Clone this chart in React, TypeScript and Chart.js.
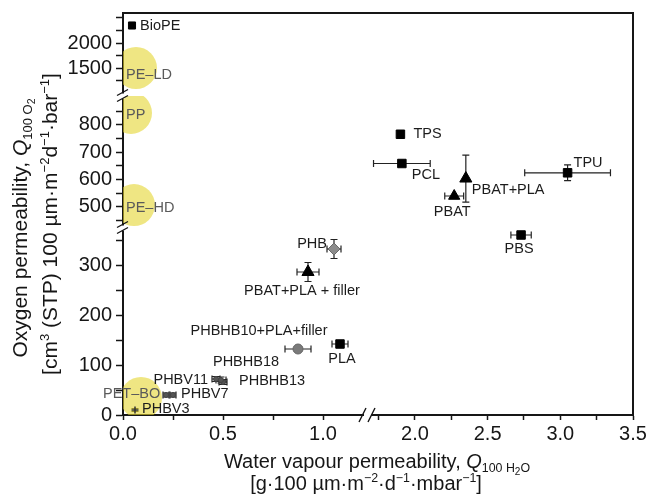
import React, { useEffect, useRef } from "react";
import { Chart, registerables } from "chart.js";

Chart.register(...registerables);

// ---------------- DATA ----------------
const materials = [
  "BioPE", "TPS", "PCL", "TPU", "PBAT", "PBAT+PLA", "PBS", "PHB",
  "PBAT+PLA + filler", "PHBHB10+PLA+filler", "PLA", "PHBV11", "PHBHB18",
  "PHBHB13", "PHBV7", "PHBV7", "PHBV3",
];
const waterPermeability = [0.045, 1.9, 1.91, 3.05, 2.27, 2.35, 2.73, 1.055, 0.925, 0.875, 1.085, 0.465, 0.49, 0.5, 0.215, 0.25, 0.06];
const oxygenPermeability = [2350, 766, 659, 625, 540, 604, 360, 332, 286, 132, 142, 72, 70, 66, 40, 40, 10];
const waterError = [0, 0, 0.195, 0.295, 0.065, 0, 0.07, 0.035, 0.055, 0.065, 0.04, 0.02, 0.025, 0.02, 0.015, 0.015, 0];
const oxygenError = [0, 0, 0, 29, 0, 86, 0, 19, 19, 5, 5, 5, 6, 5, 4, 4, 3];

const rangeMaterials = ["PE–LD", "PP", "PE–HD", "PET–BO"];
const rangeWater = [0.065, 0.04, 0.055, 0.09];
const rangeOxygen = [1500, 844, 507, 34];

// axis segments (broken axes)
const xSegLow = [0, 1.225];
const xSegHigh = [1.677, 3.5];
const ySegLow = [0, 374];
const ySegMid = [423, 906];
const ySegHigh = [940, 2600];

const xTicksLow = [0, 0.25, 0.5, 0.75, 1.0];
const xTicksHigh = [1.75, 2.0, 2.25, 2.5, 2.75, 3.0, 3.25, 3.5];
const xTickLabels = [0, 0.5, 1.0, 2.0, 2.5, 3.0, 3.5];
const yTicksLow = [0, 50, 100, 150, 200, 250, 300, 350];
const yTicksMid = [450, 500, 550, 600, 650, 700, 750, 800, 850];
const yTicksHigh = [1250, 1500, 1750, 2000, 2250, 2500];
const yTickLabels = [0, 100, 200, 300, 500, 600, 700, 800, 1500, 2000];

// ---------------- STYLE ----------------
const FONT = '"Liberation Sans", Arial, Helvetica, sans-serif';
const INK = "#161616";
const YELLOW = "rgba(228,214,48,0.6)";

type Look = { shape: string; r: number; fill: string; stroke: string; dx: number; dy: number; align: CanvasTextAlign; label: boolean };
const sq = (dx: number, dy: number, align: CanvasTextAlign, r = 6): Look => ({ shape: "rect", r, fill: "#000", stroke: "#000", dx, dy, align, label: true });
const tri = (dx: number, dy: number, align: CanvasTextAlign, r = 7): Look => ({ shape: "triangle", r, fill: "#000", stroke: "#000", dx, dy, align, label: true });
const small = (dx: number, dy: number, align: CanvasTextAlign, label = true): Look => ({ shape: "circle", r: 2.5, fill: "#555", stroke: "#444", dx, dy, align, label });

const pointLook: Look[] = [
  sq(8, 0, "left", 5),        // BioPE
  sq(13, 0, "left"),          // TPS
  sq(10, 11, "left"),         // PCL
  sq(6, -10, "left"),         // TPU
  tri(-2, 16, "center", 6.5), // PBAT
  tri(6, 11, "left"),         // PBAT+PLA
  sq(-2, 14, "center"),       // PBS
  { shape: "rectRot", r: 6, fill: "#8c8c8c", stroke: "#6a6a6a", dx: -7, dy: -5, align: "right", label: true }, // PHB
  tri(-6, 19, "center"),      // PBAT+PLA + filler
  { shape: "circle", r: 5, fill: "#7a7a7a", stroke: "#666", dx: -39, dy: -18, align: "center", label: true }, // PHBHB10
  sq(2, 15, "center"),        // PLA
  small(-8, 1, "right"),      // PHBV11
  small(25, -18, "center"),   // PHBHB18
  small(16, -1, "left"),      // PHBHB13
  small(0, 0, "left", false), // PHBV7 a
  small(8, -1, "left"),       // PHBV7 b
  { shape: "cross", r: 3.5, fill: "#333", stroke: "#333", dx: 7, dy: -1, align: "left", label: true }, // PHBV3
];
const rangeLook = [
  { dx: -10, dy: 7 },
  { dx: -5, dy: 2 },
  { dx: -8, dy: 3 },
  { dx: -38, dy: -4 },
];

const xAxisFor = (x: number) => (x <= xSegLow[1] ? "xLow" : "xHigh");
const yAxisFor = (y: number) => (y <= ySegLow[1] ? "yLow" : y <= ySegMid[1] ? "yMid" : "yHigh");

type Seg = { t: string; k: "n" | "i" | "sub" | "ss" | "sup" };
const yTitle1: Seg[] = [{ t: "Oxygen permeability, ", k: "n" }, { t: "Q", k: "i" }, { t: "100 O", k: "sub" }, { t: "2", k: "ss" }];
const yTitle2: Seg[] = [
  { t: "[cm", k: "n" }, { t: "3", k: "sup" }, { t: " (STP) 100 µm·m", k: "n" }, { t: "−2", k: "sup" },
  { t: "d", k: "n" }, { t: "−1", k: "sup" }, { t: "·bar", k: "n" }, { t: "−1", k: "sup" }, { t: "]", k: "n" },
];
const xTitle1: Seg[] = [{ t: "Water vapour permeability, ", k: "n" }, { t: "Q", k: "i" }, { t: "100 H", k: "sub" }, { t: "2", k: "ss" }, { t: "O", k: "sub" }];
const xTitle2: Seg[] = [
  { t: "[g·100 µm·m", k: "n" }, { t: "−2", k: "sup" }, { t: "·d", k: "n" }, { t: "−1", k: "sup" },
  { t: "·mbar", k: "n" }, { t: "−1", k: "sup" }, { t: "]", k: "n" },
];

function drawRich(ctx: CanvasRenderingContext2D, segs: Seg[], cx: number, baseline: number, size: number) {
  const sizes: Record<string, number> = { n: size, i: size, sub: size * 0.62, ss: size * 0.5, sup: size * 0.62 };
  const shifts: Record<string, number> = { n: 0, i: 0, sub: size * 0.22, ss: size * 0.36, sup: -size * 0.4 };
  const font = (k: string) => `${k === "i" ? "italic " : ""}${sizes[k]}px ${FONT}`;
  let total = 0;
  const widths = segs.map((s) => {
    ctx.font = font(s.k);
    const w = ctx.measureText(s.t).width;
    total += w;
    return w;
  });
  let x = cx - total / 2;
  ctx.textAlign = "left";
  ctx.textBaseline = "alphabetic";
  ctx.fillStyle = INK;
  segs.forEach((s, j) => {
    ctx.font = font(s.k);
    ctx.fillText(s.t, x, baseline + shifts[s.k]);
    x += widths[j];
  });
}

const decorPlugin = {
  id: "decor",
  beforeDraw(chart: any) {
    const ctx = chart.ctx;
    ctx.save();
    ctx.fillStyle = "#fff";
    ctx.fillRect(0, 0, chart.width, chart.height);
    ctx.restore();
  },
  beforeDatasetsDraw(chart: any) {
    const ctx: CanvasRenderingContext2D = chart.ctx;
    ctx.save();
    ctx.strokeStyle = "#222";
    ctx.lineWidth = 1.2;
    const cap = 3.5;
    materials.forEach((_, i) => {
      const x = waterPermeability[i];
      const y = oxygenPermeability[i];
      const xs = chart.scales[xAxisFor(x)];
      const ys = chart.scales[yAxisFor(y)];
      const px = xs.getPixelForValue(x);
      const py = ys.getPixelForValue(y);
      ctx.beginPath();
      if (waterError[i] > 0) {
        const a = xs.getPixelForValue(x - waterError[i]);
        const b = xs.getPixelForValue(x + waterError[i]);
        ctx.moveTo(a, py); ctx.lineTo(b, py);
        ctx.moveTo(a, py - cap); ctx.lineTo(a, py + cap);
        ctx.moveTo(b, py - cap); ctx.lineTo(b, py + cap);
      }
      if (oxygenError[i] > 0) {
        const a = ys.getPixelForValue(y - oxygenError[i]);
        const b = ys.getPixelForValue(y + oxygenError[i]);
        ctx.moveTo(px, a); ctx.lineTo(px, b);
        ctx.moveTo(px - cap, a); ctx.lineTo(px + cap, a);
        ctx.moveTo(px - cap, b); ctx.lineTo(px + cap, b);
      }
      ctx.stroke();
    });
    ctx.restore();
  },
  afterDatasetsDraw(chart: any) {
    const ctx: CanvasRenderingContext2D = chart.ctx;
    ctx.save();
    ctx.font = `14.5px ${FONT}`;
    ctx.textBaseline = "middle";
    materials.forEach((m, i) => {
      const look = pointLook[i];
      if (!look.label) return;
      const x = waterPermeability[i];
      const y = oxygenPermeability[i];
      const px = chart.scales[xAxisFor(x)].getPixelForValue(x);
      const py = chart.scales[yAxisFor(y)].getPixelForValue(y);
      ctx.textAlign = look.align;
      ctx.fillStyle = "#1c1c1c";
      ctx.fillText(m, px + look.dx, py + look.dy);
    });
    rangeMaterials.forEach((m, i) => {
      const x = rangeWater[i];
      const y = rangeOxygen[i];
      const px = chart.scales[xAxisFor(x)].getPixelForValue(x);
      const py = chart.scales[yAxisFor(y)].getPixelForValue(y);
      ctx.textAlign = "left";
      ctx.fillStyle = "#5a5a5a";
      ctx.fillText(m, px + rangeLook[i].dx, py + rangeLook[i].dy);
    });
    ctx.restore();
  },
  afterDraw(chart: any) {
    const ctx: CanvasRenderingContext2D = chart.ctx;
    const { left, right, top, bottom } = chart.chartArea;
    ctx.save();
    // frame top & right
    ctx.strokeStyle = INK;
    ctx.lineWidth = 2;
    ctx.beginPath();
    ctx.moveTo(left, top);
    ctx.lineTo(right, top);
    ctx.lineTo(right, bottom);
    ctx.stroke();

    // y-axis breaks
    const yBreaks = [chart.scales.yHigh.bottom, chart.scales.yMid.bottom];
    yBreaks.forEach((yb: number) => {
      ctx.fillStyle = "#fff";
      ctx.fillRect(left - 2, yb - 2.5, 4, 5);
      ctx.strokeStyle = INK;
      ctx.lineWidth = 1.4;
      ctx.beginPath();
      ctx.moveTo(left - 6, yb - 0.5); ctx.lineTo(left + 5, yb - 6.5);
      ctx.moveTo(left - 6, yb + 5.5); ctx.lineTo(left + 5, yb - 0.5);
      ctx.stroke();
    });
    // x-axis break
    const xb = chart.scales.xLow.right;
    ctx.fillStyle = "#fff";
    ctx.fillRect(xb - 4, bottom - 2, 7, 4);
    ctx.strokeStyle = INK;
    ctx.lineWidth = 1.4;
    ctx.beginPath();
    ctx.moveTo(xb - 9, bottom + 7); ctx.lineTo(xb - 2, bottom - 7);
    ctx.moveTo(xb, bottom + 7); ctx.lineTo(xb + 7, bottom - 7);
    ctx.stroke();

    // axis titles
    ctx.save();
    ctx.translate(27, 228);
    ctx.rotate(-Math.PI / 2);
    drawRich(ctx, yTitle1, 0, 0, 21);
    ctx.restore();
    ctx.save();
    ctx.translate(57, 224);
    ctx.rotate(-Math.PI / 2);
    drawRich(ctx, yTitle2, 0, 0, 21);
    ctx.restore();
    drawRich(ctx, xTitle1, 377, 468, 20);
    drawRich(ctx, xTitle2, 366, 490, 20);
    ctx.restore();
  },
};

function axis(pos: "left" | "bottom", seg: number[], ticks: number[], weight: number) {
  const isX = pos === "bottom";
  return {
    type: "linear",
    position: pos,
    stack: isX ? "xStack" : "yStack",
    stackWeight: weight,
    min: seg[0],
    max: seg[1],
    afterBuildTicks: (s: any) => {
      s.ticks = ticks.map((v) => ({ value: v }));
    },
    afterFit: (s: any) => {
      if (isX) s.height = 85;
      else s.width = 123;
      s.paddingTop = 0;
      s.paddingBottom = 0;
      s.paddingLeft = 0;
      s.paddingRight = 0;
    },
    ticks: {
      autoSkip: false,
      maxRotation: 0,
      minRotation: 0,
      padding: isX ? 2 : 4,
      color: INK,
      font: { family: FONT, size: 20 },
      callback: (v: number) => {
        const hit = isX
          ? xTickLabels.some((t) => Math.abs(t - v) < 1e-6)
          : yTickLabels.some((t) => Math.abs(t - v) < 1e-6);
        if (!hit) return "";
        return isX ? Number(v).toFixed(1) : String(v);
      },
    },
    grid: {
      display: true,
      drawOnChartArea: false,
      drawTicks: true,
      tickLength: isX ? 5 : 7,
      tickWidth: 1.5,
      tickColor: INK,
    },
    border: { display: true, color: INK, width: 2 },
  };
}

export default function App() {
  const ref = useRef<HTMLCanvasElement>(null);
  useEffect(() => {
    if (!ref.current) return;
    const pointSets = materials.map((m, i) => {
      const look = pointLook[i];
      return {
        type: "scatter",
        label: m,
        data: [{ x: waterPermeability[i], y: oxygenPermeability[i] }],
        xAxisID: xAxisFor(waterPermeability[i]),
        yAxisID: yAxisFor(oxygenPermeability[i]),
        pointStyle: look.shape,
        pointRadius: look.r,
        backgroundColor: look.fill,
        borderColor: look.stroke,
        borderWidth: look.shape === "cross" ? 1.5 : 1,
      };
    });
    const rangeSets = rangeMaterials.map((m, i) => ({
      type: "scatter",
      label: m,
      data: [{ x: rangeWater[i], y: rangeOxygen[i] }],
      xAxisID: xAxisFor(rangeWater[i]),
      yAxisID: yAxisFor(rangeOxygen[i]),
      pointStyle: "circle",
      pointRadius: 21,
      backgroundColor: YELLOW,
      borderWidth: 0,
      clip: 0,
    }));
    const chart = new Chart(ref.current, {
      type: "scatter",
      data: { datasets: [...pointSets, ...rangeSets] as any },
      options: {
        responsive: false,
        animation: false,
        devicePixelRatio: 1,
        layout: { autoPadding: false, padding: { left: 0, top: 13, right: 18, bottom: 0 } },
        plugins: { legend: { display: false }, tooltip: { enabled: false } },
        scales: {
          yLow: axis("left", ySegLow, yTicksLow, 187),
          yMid: axis("left", ySegMid, yTicksMid, 132),
          yHigh: axis("left", ySegHigh, yTicksHigh, 83),
          xLow: axis("bottom", xSegLow, xTicksLow, 245),
          xHigh: axis("bottom", xSegHigh, xTicksHigh, 265),
        } as any,
      },
      plugins: [decorPlugin],
    } as any);
    return () => chart.destroy();
  }, []);
  return (
    <div style={{ position: "absolute", left: 0, top: 0, width: 651, height: 500, background: "#fff" }}>
      <canvas ref={ref} width={651} height={500} style={{ display: "block", width: 651, height: 500 }} />
    </div>
  );
}
